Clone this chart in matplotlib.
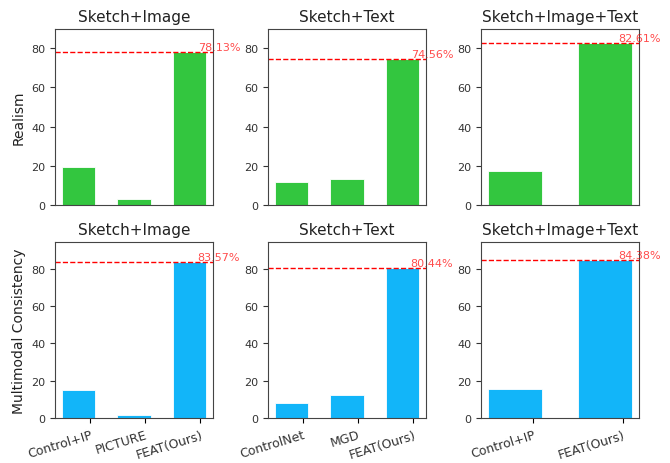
import matplotlib
matplotlib.use('Agg')
import matplotlib.pyplot as plt

# panel titles (columns) and metrics (rows)
titles = ['Sketch+Image', 'Sketch+Text', 'Sketch+Image+Text']
row_labels = ['Realism', 'Multimodal Consistency']

methods_img = ['Control+IP', 'PICTURE', 'FEAT(Ours)']
methods_txt = ['ControlNet', 'MGD', 'FEAT(Ours)']
methods_all = ['Control+IP', 'FEAT(Ours)']
methods = [methods_img, methods_txt, methods_all]

realism_img = [19.2, 2.9, 78.13]
realism_txt = [12.0, 13.2, 74.56]
realism_all = [17.4, 82.61]
consist_img = [14.9, 1.8, 83.57]
consist_txt = [8.1, 12.2, 80.44]
consist_all = [15.6, 84.38]

rows = [[realism_img, realism_txt, realism_all],
        [consist_img, consist_txt, consist_all]]
row_colors = ['#33C63F', '#12B5F9']
row_ymax = [89.6, 94.2]

fig, axes = plt.subplots(2, 3, figsize=(6.7, 4.64), dpi=100)
fig.subplots_adjust(left=0.082, right=0.954, top=0.935, bottom=0.097,
                    wspace=0.347, hspace=0.21)

for r in range(2):
    for c in range(3):
        ax = axes[r, c]
        vals = rows[r][c]
        x = list(range(len(vals)))
        ax.bar(x, vals, width=0.6, color=row_colors[r], edgecolor='white', linewidth=0.6)
        best = vals[-1]
        ax.axhline(best, color='red', linestyle='--', linewidth=1.0)
        ax.text(x[-1] + 0.15, best, f'{best:.2f}%', color='red', alpha=0.7,
                fontsize=8, ha='left', va='bottom')
        ax.set_ylim(0, row_ymax[r])
        ax.set_yticks([0, 20, 40, 60, 80])
        ax.tick_params(axis='y', labelsize=8, colors='#333333')
        ax.set_title(titles[c], fontsize=11, color='#222222')
        for sp in ax.spines.values():
            sp.set_color('#444444')
        if r == 1:
            # tick marks sit slightly right of the bar centres, as in the original
            ax.set_xticks([i + 0.2 for i in x])
            ax.set_xticklabels(methods[c], rotation=17, ha='right', fontsize=9,
                               color='#333333', rotation_mode='anchor')
        else:
            ax.set_xticks([])
        if c == 0:
            ax.set_ylabel(row_labels[r], fontsize=10, color='#222222')

fig.savefig('out.png', dpi=100)
